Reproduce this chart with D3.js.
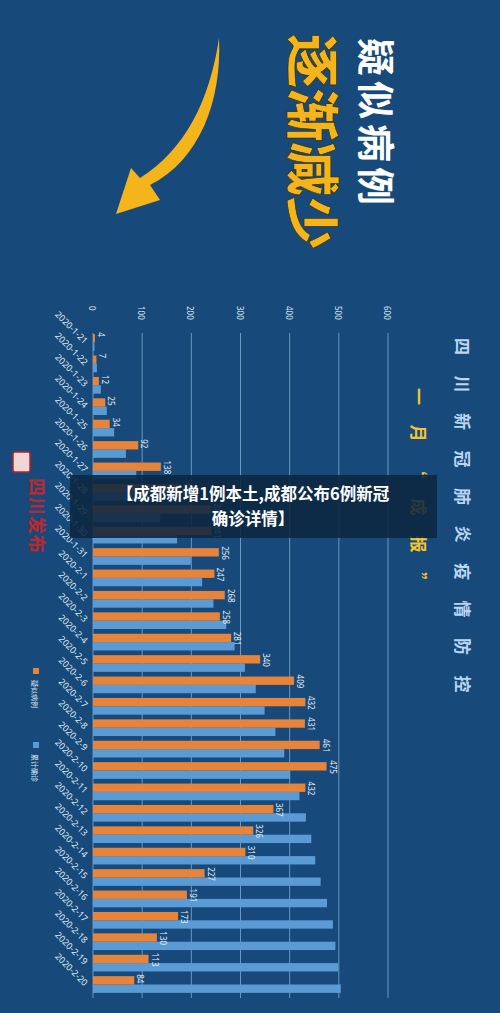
<!DOCTYPE html>
<html><head><meta charset="utf-8">
<script src="https://cdn.jsdelivr.net/npm/d3@7"></script>
<style>body{margin:0;background:#174a7a}svg{display:block}</style>
</head><body><div id="chart"></div>
<script>
let dates = ['2020-1-21','2020-1-22','2020-1-23','2020-1-24','2020-1-25','2020-1-26','2020-1-27','2020-1-28','2020-1-29','2020-1-30','2020-1-31',
  '2020-2-1','2020-2-2','2020-2-3','2020-2-4','2020-2-5','2020-2-6','2020-2-7','2020-2-8','2020-2-9','2020-2-10','2020-2-11',
  '2020-2-12','2020-2-13','2020-2-14','2020-2-15','2020-2-16','2020-2-17','2020-2-18','2020-2-19','2020-2-20']
let suspected = [4,7,12,25,34,92,138,176,240,241,256,247,268,258,281,340,409,432,431,461,475,432,367,326,310,227,191,173,130,113,84]
let confirmed = [3,8,16,28,43,67,88,108,137,171,199,222,245,271,288,309,331,349,371,389,401,420,433,444,452,463,476,488,493,499,504]
let ticks = [0,100,200,300,400,500,600]

let W = 500, H = 1013
let svg = d3.select('#chart').append('svg').attr('width', W).attr('height', H)
svg.append('rect').attr('width', W).attr('height', H).attr('fill', '#174a7a')

let x = d3.scaleLinear().domain([0, 600]).range([93, 388])
let y = d3.scaleBand().domain(dates).range([332, 995]).paddingInner(0.22).paddingOuter(0.1)

// grid + tick labels
let g = svg.append('g')
g.selectAll('line.grid').data(ticks).join('line')
  .attr('x1', d => x(d)).attr('x2', d => x(d))
  .attr('y1', 333).attr('y2', 998)
  .attr('stroke', '#9cc3e6').attr('stroke-width', 0.8).attr('opacity', 0.8)
g.selectAll('text.tick').data(ticks).join('text')
  .attr('transform', d => `translate(${x(d) - 4},306) rotate(90)`)
  .attr('font-family', 'Noto Sans').attr('font-size', 8).attr('fill', '#dfe9f3')
  .text(d => d)

// date labels
g.selectAll('text.date').data(dates).join('text')
  .attr('transform', d => `translate(${84},${y(d) + y.bandwidth() / 2 + 2}) rotate(45)`)
  .attr('text-anchor', 'end')
  .attr('font-family', 'Noto Sans').attr('font-size', 9).attr('fill', '#dfe9f3')
  .text(d => d)

let bh = y.bandwidth() / 2
g.selectAll('rect.blue').data(confirmed).join('rect')
  .attr('x', x(0)).attr('y', (d, i) => y(dates[i]) + bh)
  .attr('width', d => x(d) - x(0)).attr('height', bh)
  .attr('fill', '#5b9bd5')
g.selectAll('rect.orange').data(suspected).join('rect')
  .attr('x', x(0)).attr('y', (d, i) => y(dates[i]))
  .attr('width', d => x(d) - x(0)).attr('height', bh)
  .attr('fill', '#e8833a')
g.selectAll('text.val').data(suspected).join('text')
  .attr('transform', (d, i) => `translate(${x(d) + 3},${y(dates[i]) - 2}) rotate(90)`)
  .attr('font-family', 'Noto Sans').attr('font-size', 8).attr('fill', '#e8eef5')
  .text(d => d)

// legend
let legend = [['疑似病例', '#e8833a', 668], ['累计确诊', '#5b9bd5', 742]]
legend.forEach(([t, c, ly]) => {
  svg.append('rect').attr('x', 33).attr('y', ly).attr('width', 6).attr('height', 6).attr('fill', c)
  svg.append('text').attr('transform', `translate(32,${ly + 12}) rotate(90)`)
    .attr('font-family', 'Noto Sans CJK SC').attr('font-size', 7).attr('fill', '#dfe9f3').text(t)
})

// headline
let vt = (t, tx, ty, size, fill, weight, spacing) =>
  svg.append('text').attr('transform', `translate(${tx},${ty}) rotate(90)`)
    .attr('font-family', 'Noto Sans CJK SC').attr('font-size', size).attr('font-weight', weight)
    .attr('letter-spacing', spacing).attr('fill', fill).text(t)
vt('疑似病例', 362, 38, 38, '#ffffff', 700, 5)
svg.append('text').attr('transform', 'translate(292,34) rotate(90)')
  .attr('font-family', 'Noto Sans CJK SC').attr('font-size', 54).attr('font-weight', 900)
  .attr('fill', '#f4b41c').attr('stroke', '#3a2a00').attr('stroke-width', 0.6)
  .text('逐渐减少')

// arrow
svg.append('path')
  .attr('d', 'M219,38 C222,100 200,160 150,185 L160,200 L116,214 L131,168 L140,178 C185,150 210,100 219,38 Z')
  .attr('fill', '#f4b41c')

vt('四川新冠肺炎疫情防控', 456, 338, 17, '#b9d6f2', 700, 20.5)
vt('一  月  “  成  报  ”', 412, 388, 17, '#f4c430', 700, 8)

// logo
svg.append('rect').attr('x', 13).attr('y', 452).attr('width', 17).attr('height', 20).attr('rx', 2)
  .attr('fill', '#f2d6d6').attr('stroke', '#b3262b').attr('stroke-width', 1.5)
vt('四川发布', 30, 478, 18, '#c0272d', 700, 1)

// caption overlay
svg.append('rect').attr('x', 70).attr('y', 475).attr('width', 367).attr('height', 63).attr('fill', '#0c2640').attr('opacity', 0.88)
let cap = svg.append('text').attr('text-anchor', 'middle').attr('font-family', 'Noto Sans CJK SC')
  .attr('font-weight', 700).attr('font-size', 16.5).attr('fill', '#ffffff')
cap.append('tspan').attr('x', 253).attr('y', 500).text('【成都新增1例本土,成都公布6例新冠')
cap.append('tspan').attr('x', 253).attr('y', 525).text('确诊详情】')
</script></body></html>
